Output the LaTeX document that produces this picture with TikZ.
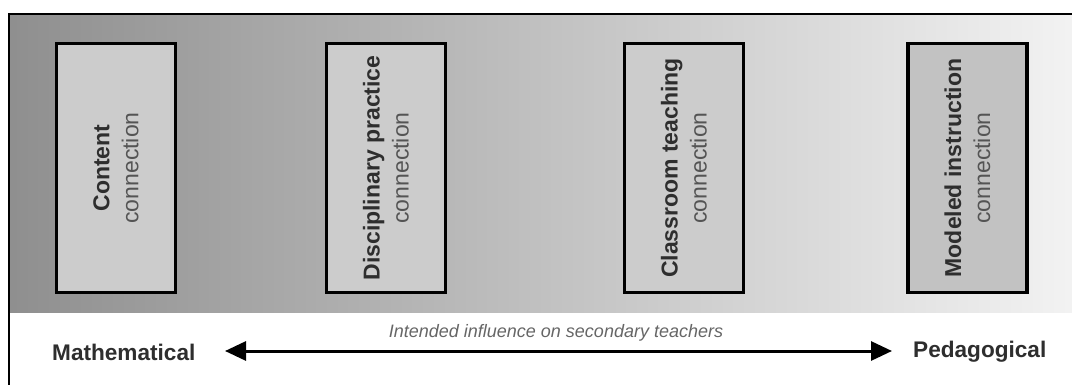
\documentclass[tikz,border=0pt]{standalone}
\usepackage{fontspec}
\setmainfont{Liberation Sans}
\usetikzlibrary{arrows.meta}
\definecolor{shadeL}{gray}{0.56}
\definecolor{shadeR}{gray}{0.95}
\definecolor{boxfill}{gray}{0.8}
\definecolor{boxfillB}{gray}{0.76}
\definecolor{darktext}{gray}{0.18}
\definecolor{subtext}{gray}{0.33}
\definecolor{captext}{gray}{0.4}
\tikzset{
  connbox/.style={draw=black, line width=3.4pt, fill=boxfill, rotate=90,
    minimum width=249pt, minimum height=119pt, inner sep=0pt, align=center,
    font=\fontsize{23}{29}\selectfont, text=darktext},
  endlabel/.style={font=\fontsize{22.6}{26}\selectfont\bfseries, text=darktext, inner sep=0pt},
  caption/.style={font=\fontsize{18}{20}\selectfont\itshape, text=captext, inner sep=0pt},
  influence/.style={{Triangle[length=21pt,width=19pt]}-{Triangle[length=21pt,width=19pt]}, line width=3pt, black}
}
\newcommand{\conn}[1]{\textbf{#1}\\{\color{subtext}connection}}
\begin{document}
\begin{tikzpicture}[x=1pt,y=-1pt]
\useasboundingbox (0,0) rectangle (1072,385);
\fill[white] (0,0) rectangle (1072,385);
\shade[left color=shadeL, right color=shadeR] (9,14) rectangle (1072,312);
\draw[line width=1.5pt] (9,385) -- (9,14) -- (1072,14);
\node[connbox] (c1) at (116,168) {\conn{Content}};
\node[connbox] (c2) at (386,168) {\conn{Disciplinary practice}};
\node[connbox] (c3) at (684,168) {\conn{Classroom teaching}};
\node[connbox, fill=boxfillB] (c4) at (967.5,168) {\conn{Modeled instruction}};
\node[endlabel, anchor=west] (math) at (52,352) {Mathematical};
\node[endlabel, anchor=west] (ped) at (913,352) {Pedagogical};
\coordinate (al) at (225,351);
\coordinate (ar) at (892,351);
\draw[influence] (al) -- (ar);
\node[caption] (cap) at (556,333) {Intended influence on secondary teachers};
\end{tikzpicture}
\end{document}
